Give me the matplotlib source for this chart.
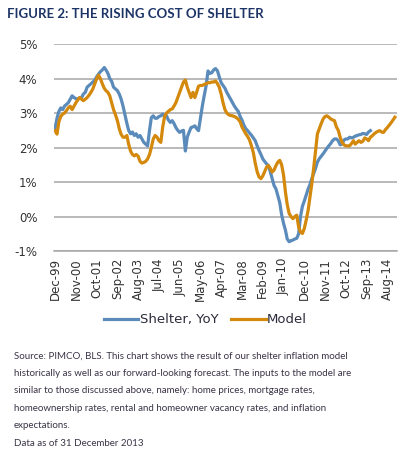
#Import Libraries
import pandas as pd
import numpy as np
import matplotlib
matplotlib.use("Agg")
import matplotlib.pyplot as plt

#Data (monthly, starting Dec-99)
start_month = '1999-12-01'

shelter_yoy = [
    2.55,                                                               # Dec-99
    2.85, 3.05, 3.15, 3.10, 3.20, 3.25, 3.30, 3.40, 3.50, 3.45, 3.42, 3.40,  # 2000
    3.45, 3.45, 3.55, 3.60, 3.75, 3.80, 3.85, 3.90, 3.95, 4.05, 4.13, 4.20,  # 2001
    4.25, 4.32, 4.25, 4.15, 4.00, 3.92, 3.75, 3.70, 3.65, 3.55, 3.40, 3.20,  # 2002
    2.95, 2.70, 2.50, 2.40, 2.45, 2.35, 2.40, 2.30, 2.35, 2.25, 2.15, 2.10,  # 2003
    2.05, 2.50, 2.87, 2.92, 2.85, 2.85, 2.90, 2.92, 2.97, 2.90, 2.92, 2.80,  # 2004
    2.73, 2.78, 2.70, 2.58, 2.50, 2.44, 2.48, 2.50, 1.90, 2.30, 2.45, 2.58,  # 2005
    2.60, 2.63, 2.55, 2.49, 2.83, 3.20, 3.50, 3.79, 4.22, 4.15, 4.17, 4.25,  # 2006
    4.29, 4.22, 4.05, 3.88, 3.80, 3.72, 3.60, 3.50, 3.40, 3.30, 3.20, 3.12,  # 2007
    3.05, 2.90, 2.80, 2.65, 2.55, 2.49, 2.42, 2.36, 2.28, 2.20, 2.05, 1.92,  # 2008
    1.80, 1.67, 1.60, 1.53, 1.48, 1.30, 1.10, 0.90, 0.80, 0.60, 0.40, 0.05,  # 2009
    -0.20, -0.40, -0.65, -0.73, -0.70, -0.68, -0.65, -0.63, -0.50, 0.00, 0.30, 0.45,  # 2010
    0.62, 0.80, 0.92, 1.10, 1.25, 1.40, 1.58, 1.68, 1.75, 1.82, 1.90, 1.98,  # 2011
    2.05, 2.12, 2.20, 2.25, 2.25, 2.20, 2.08, 2.10, 2.22, 2.25, 2.25, 2.30,  # 2012
    2.28, 2.30, 2.33, 2.35, 2.37, 2.38, 2.41, 2.40, 2.38, 2.45, 2.49,        # 2013 (to Nov)
]

model = [
    2.49,                                                               # Dec-99
    2.39, 2.75, 2.90, 2.97, 3.00, 3.07, 3.15, 3.20, 3.10, 3.20, 3.30, 3.38,  # 2000
    3.45, 3.40, 3.36, 3.40, 3.45, 3.52, 3.60, 3.70, 3.85, 3.99, 4.10, 4.00,  # 2001
    3.85, 3.72, 3.65, 3.60, 3.50, 3.30, 3.10, 2.95, 2.78, 2.55, 2.38, 2.30,  # 2002
    2.30, 2.35, 2.10, 1.90, 1.80, 1.76, 1.80, 1.75, 1.60, 1.55, 1.57, 1.60,  # 2003
    1.67, 1.80, 2.00, 2.25, 2.35, 2.30, 2.20, 2.15, 2.60, 2.90, 3.00, 3.05,  # 2004
    3.10, 3.12, 3.20, 3.30, 3.45, 3.60, 3.75, 3.90, 3.96, 3.75, 3.60, 3.45,  # 2005
    3.60, 3.45, 3.60, 3.78, 3.80, 3.80, 3.83, 3.85, 3.88, 3.88, 3.90, 3.90,  # 2006
    3.93, 3.85, 3.75, 3.55, 3.30, 3.10, 3.00, 2.95, 2.93, 2.92, 2.90, 2.87,  # 2007
    2.82, 2.75, 2.60, 2.50, 2.40, 2.32, 2.22, 2.05, 1.85, 1.55, 1.30, 1.15,  # 2008
    1.10, 1.18, 1.30, 1.43, 1.48, 1.40, 1.29, 1.35, 1.48, 1.58, 1.63, 1.50,  # 2009
    1.20, 0.70, 0.35, 0.09, 0.00, -0.06, 0.00, 0.04, -0.30, -0.45, -0.49, -0.35,  # 2010
    -0.10, 0.18, 0.55, 0.95, 1.40, 1.90, 2.40, 2.55, 2.70, 2.83, 2.90, 2.92,  # 2011
    2.88, 2.83, 2.80, 2.78, 2.60, 2.50, 2.30, 2.15, 2.08, 2.05, 2.05, 2.05,  # 2012
    2.12, 2.20, 2.10, 2.15, 2.20, 2.15, 2.18, 2.28, 2.25, 2.20, 2.30, 2.34,  # 2013
    2.40, 2.44, 2.47, 2.49, 2.45, 2.44, 2.52, 2.58, 2.65, 2.72, 2.80, 2.88,  # 2014
]

shelter_dates = pd.date_range(start_month, periods=len(shelter_yoy), freq='MS')
model_dates = pd.date_range(start_month, periods=len(model), freq='MS')
tick_dates = pd.date_range(start_month, periods=17, freq='11MS')
tick_labels = [d.strftime('%b-%y') for d in tick_dates]

blue = '#5b8bba'
orange = '#d4890c'
text_col = '#333333'

fig = plt.figure(figsize=(4.07, 4.59), dpi=100)
ax = fig.add_axes([0.133, 0.453, 0.842, 0.451])

ax.plot(shelter_dates, shelter_yoy, color=blue, lw=2.3, label='Shelter, YoY', zorder=3)
ax.plot(model_dates, model, color=orange, lw=2.3, label='Model', zorder=4)

ax.set_ylim(-1, 5)
ax.set_yticks(range(-1, 6))
ax.set_yticklabels([f'{v}%' for v in range(-1, 6)])
ax.set_xlim(pd.Timestamp('1999-11-16'), pd.Timestamp('2015-01-01'))
ax.set_xticks(tick_dates)
ax.set_xticklabels(tick_labels, rotation=90)
ax.grid(axis='y', color='#a6a6a6', lw=1.1)
ax.set_axisbelow(True)
for s in ['top', 'right', 'left']:
    ax.spines[s].set_visible(False)
ax.spines['bottom'].set_color('#a6a6a6')
ax.spines['bottom'].set_linewidth(1.1)
ax.tick_params(length=0, labelsize=8.5, colors=text_col, pad=5)
ax.tick_params(axis='y', pad=12)

leg = fig.legend(loc='center', bbox_to_anchor=(0.505, 0.303), ncol=2, frameon=False,
                 fontsize=9.5, handlelength=2.6, handletextpad=0.1, columnspacing=1.0)
for t in leg.get_texts():
    t.set_color('#2b2b3b')

fig.text(0.017, 0.969, 'FIGURE 2: THE RISING COST OF SHELTER', fontsize=9.5,
         fontweight='bold', color='#1d3466', va='center', family='Lato')

source = ('Source: PIMCO, BLS. This chart shows the result of our shelter inflation model\n'
          'historically as well as our forward-looking forecast. The inputs to the model are\n'
          'similar to those discussed above, namely: home prices, mortgage rates,\n'
          'homeownership rates, rental and homeowner vacancy rates, and inflation\n'
          'expectations.\n'
          'Data as of 31 December 2013')
fig.text(0.034, 0.234, source, fontsize=7.0, color='#3a3346', va='top', linespacing=2.2,
         family='Lato')

plt.savefig('out.png', dpi=100)
